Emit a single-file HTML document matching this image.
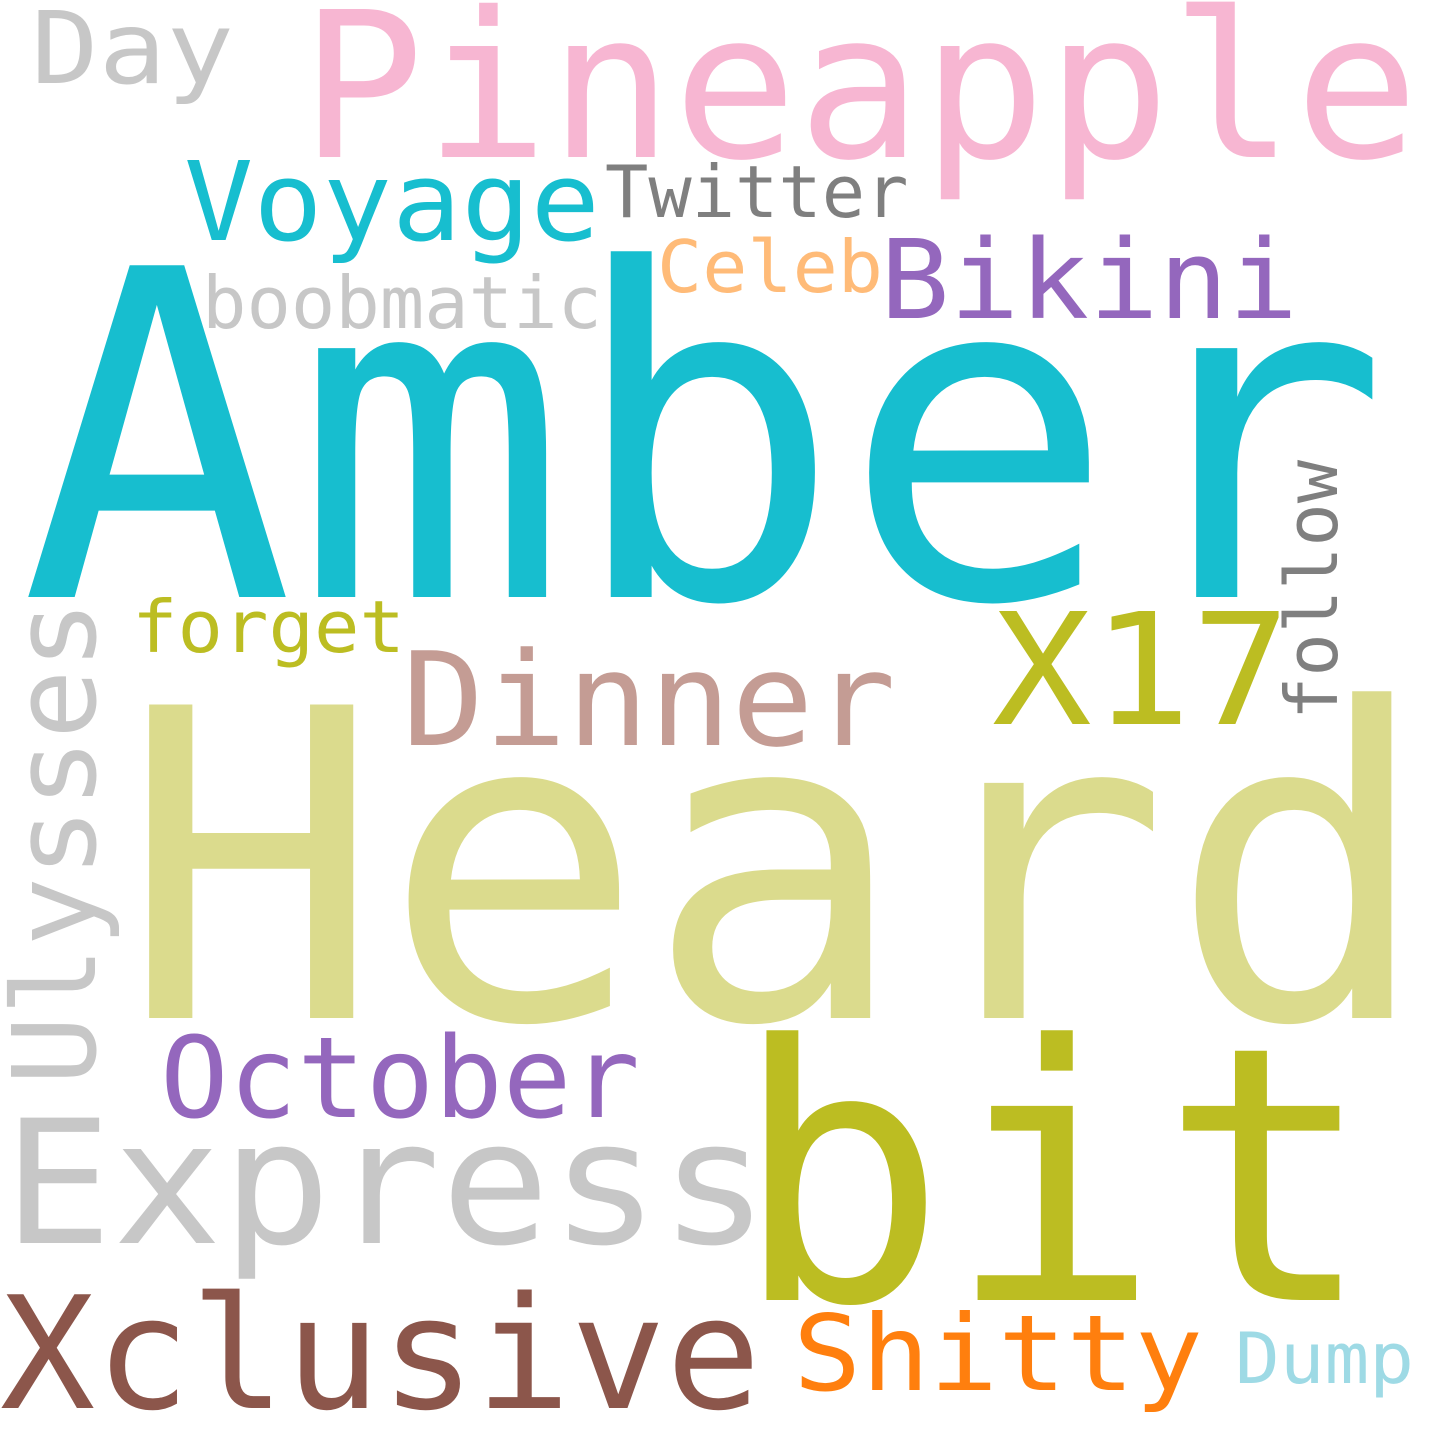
<!DOCTYPE html>
<html><head><meta charset="utf-8"><style>
html,body{margin:0;padding:0;background:#fff;}
svg{display:block;}
text{font-family:"DejaVu Sans Mono","Liberation Mono",monospace;}
</style></head><body>
<svg width="1440" height="1440" viewBox="0 0 1440 1440">
<rect width="1440" height="1440" fill="#fff"/>
<text x="20" y="597" font-size="455" fill="#17becf">Amber</text>
<text x="120" y="1018" font-size="430" textLength="1312" lengthAdjust="spacingAndGlyphs" fill="#dbdb8d">Heard</text>
<text x="733" y="1300" font-size="355" fill="#bcbd22">bit</text>
<text x="300" y="157" font-size="203" textLength="1119" lengthAdjust="spacingAndGlyphs" fill="#f7b6d2">Pineapple</text>
<text x="3" y="1243" font-size="172" textLength="766" lengthAdjust="spacingAndGlyphs" fill="#c7c7c7">Express</text>
<text x="0" y="1408" font-size="156" textLength="761" lengthAdjust="spacingAndGlyphs" fill="#8c564b">Xclusive</text>
<text x="402" y="745" font-size="130" textLength="494" lengthAdjust="spacingAndGlyphs" fill="#c49c94">Dinner</text>
<text x="992" y="724" font-size="155" textLength="299" lengthAdjust="spacingAndGlyphs" fill="#bcbd22">X17</text>
<text transform="translate(95,1085) rotate(-90)" font-size="115" fill="#c7c7c7">Ulysses</text>
<text x="160" y="1117" font-size="112" textLength="480" lengthAdjust="spacingAndGlyphs" fill="#9467bd">October</text>
<text x="184" y="240" font-size="110" textLength="416" lengthAdjust="spacingAndGlyphs" fill="#17becf">Voyage</text>
<text x="605" y="217" font-size="72" fill="#7f7f7f">Twitter</text>
<text x="880" y="318" font-size="110" textLength="418" lengthAdjust="spacingAndGlyphs" fill="#9467bd">Bikini</text>
<text x="657" y="292" font-size="72" textLength="226" lengthAdjust="spacingAndGlyphs" fill="#ffbb78">Celeb</text>
<text x="202" y="328" font-size="72" textLength="400" lengthAdjust="spacingAndGlyphs" fill="#c7c7c7">boobmatic</text>
<text x="31" y="83" font-size="100" textLength="203" lengthAdjust="spacingAndGlyphs" fill="#c7c7c7">Day</text>
<text x="132" y="652" font-size="72" textLength="273" lengthAdjust="spacingAndGlyphs" fill="#bcbd22">forget</text>
<text transform="translate(1337,720) rotate(-90)" font-size="72" fill="#7f7f7f">follow</text>
<text x="793" y="1390" font-size="105" textLength="410" lengthAdjust="spacingAndGlyphs" fill="#ff7f0e">Shitty</text>
<text x="1235" y="1383" font-size="70" textLength="179" lengthAdjust="spacingAndGlyphs" fill="#9edae5">Dump</text>
</svg>
</body></html>
